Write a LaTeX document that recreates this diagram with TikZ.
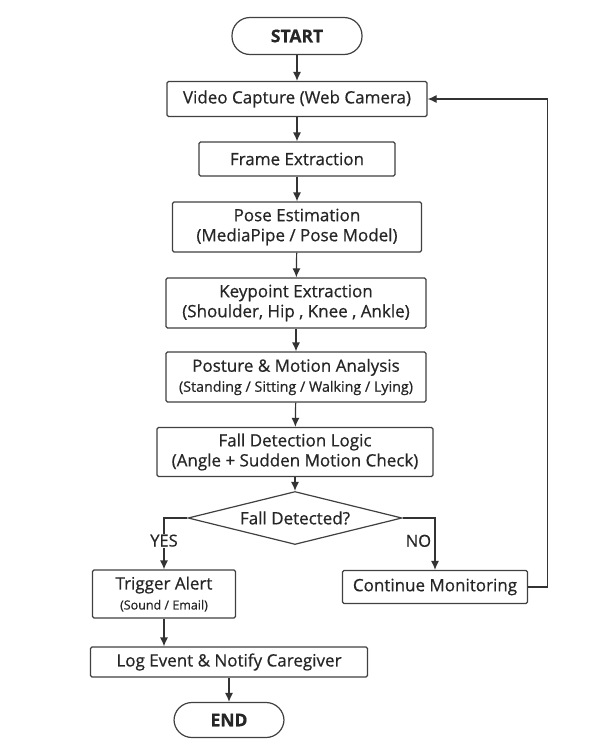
\documentclass[tikz,border=0pt]{standalone}
\usepackage{fontspec}
\setmainfont{Open Sans}[FakeBold=0.6]
\usetikzlibrary{shapes.geometric,arrows.meta}

\tikzset{
	box/.style={draw=black!75, line width=1.2pt, rounded corners=1.5pt, fill=white, align=center, font=\fontsize{17}{20}\selectfont, inner sep=1pt, text=black!85},
	term/.style={draw=black!75, line width=1.2pt, rounded corners=18pt, fill=white, font=\fontsize{17.5}{20}\selectfont\bfseries, minimum height=37, inner sep=1pt, text=black!85},
	decision/.style={draw=black!75, line width=1.2pt, diamond, aspect=4, fill=white, inner sep=0pt, font=\fontsize{17}{20}\selectfont, minimum width=214, minimum height=53, text=black!85},
	arr/.style={draw=black!80, line width=1.2pt, -{Latex[length=9pt,width=8pt]}},
	lbl/.style={font=\fontsize{16.5}{18}\selectfont, text=black!85},
}

\begin{document}
\begin{tikzpicture}[x=1pt, y=-1pt]
	\useasboundingbox (0,0) rectangle (601,747);

	\node[term, minimum width=130] (start) at (297,36) {START};
	\node[box, minimum width=260, minimum height=35] (capture) at (297,99) {Video Capture (Web Camera)};
	\node[box, minimum width=196, minimum height=34] (frame) at (297,159) {Frame Extraction};
	\node[box, minimum width=249, minimum height=50] (pose) at (297,227) {Pose Estimation\\(MediaPipe / Pose Model)};
	\node[box, minimum width=260, minimum height=50] (keypt) at (296,303) {Keypoint Extraction\\(Shoulder, Hip , Knee , Ankle)};
	\node[box, minimum width=260, minimum height=50] (posture) at (296,377) {Posture \& Motion Analysis\\{\fontsize{14.3}{16}\selectfont (Standing / Sitting / Walking / Lying)}};
	\node[box, minimum width=276, minimum height=49] (logic) at (295,452) {Fall Detection Logic\\(Angle + Sudden Motion Check)};
	\node[decision] (check) at (295,518) {Fall Detected?};
	\node[box, minimum width=143, minimum height=48] (alert) at (164,594) {Trigger Alert\\{\fontsize{12.5}{15}\selectfont (Sound / Email)}};
	\node[box, minimum width=185, minimum height=33] (monitor) at (435,587) {Continue Monitoring};
	\node[box, minimum width=277, minimum height=30] (log) at (229,662) {Log Event \& Notify Caregiver};
	\node[term, minimum width=110, minimum height=35] (end) at (229,720) {END};

	% main flow
	\draw[arr] (start) -- (capture);
	\draw[arr] (capture) -- (frame);
	\draw[arr] (frame) -- (pose);
	\draw[arr] (pose) -- (keypt);
	\draw[arr] (keypt) -- (posture);
	\draw[arr] (posture) -- (logic);
	\draw[arr] (logic) -- (check);

	% branches
	\draw[arr] (check.west) -| node[pos=0.72, fill=white, lbl, inner sep=1pt] {YES} (alert.north);
	\draw[arr] (check.east) -| node[pos=0.72, left, lbl] {NO} (monitor.north);
	\draw[arr] (alert) -- (alert |- log.north);
	\draw[arr] (log) -- (end);

	% loop back
	\draw[arr] (monitor.east) -- ++(19,0) |- (capture.east);
\end{tikzpicture}
\end{document}
